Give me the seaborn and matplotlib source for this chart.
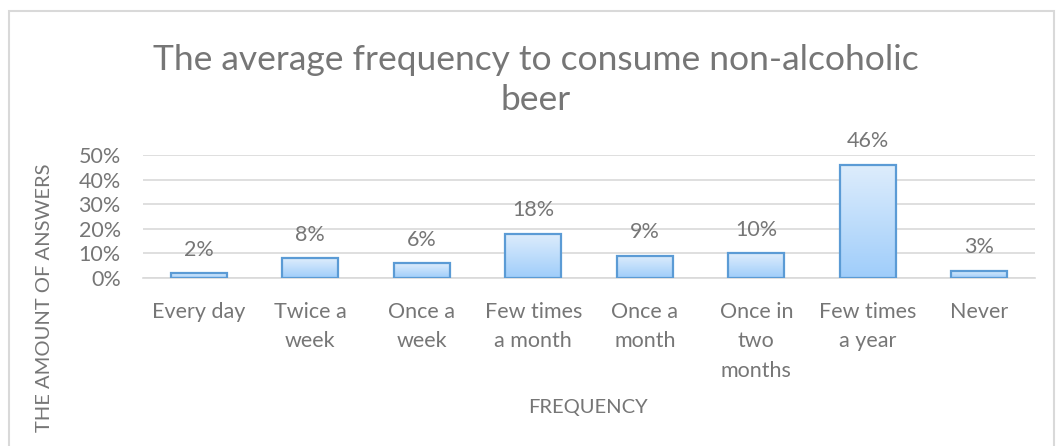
import numpy as np
import pandas as pd
import matplotlib
matplotlib.use("Agg")
import matplotlib.pyplot as plt
import seaborn as sns
from matplotlib.colors import LinearSegmentedColormap

categories = ["Every day", "Twice a\nweek", "Once a\nweek", "Few times\na month",
              "Once a\nmonth", "Once in\ntwo\nmonths", "Few times\na year", "Never"]
shares = [2, 8, 6, 18, 9, 10, 46, 3]
y_ticks = [0, 10, 20, 30, 40, 50]

df = pd.DataFrame({"category": categories, "share": shares})

sns.set_theme(style="white")
plt.rcParams["font.family"] = ["Lato", "DejaVu Sans"]

text_grey = "#767676"
fig = plt.figure(figsize=(10.56, 4.46), dpi=100)
ax = fig.add_axes([143 / 1056, 1 - 278 / 446, (1035 - 143) / 1056, (278 - 155) / 446])

sns.barplot(data=df, x="category", y="share", ax=ax, width=0.5,
            color="#bddcfb", edgecolor="#5b9bd5", linewidth=1.6, zorder=3)

# vertical gradient fill inside each bar
grad = LinearSegmentedColormap.from_list("bar", ["#9fcdfa", "#deedfc"])
gimg = np.linspace(0, 1, 256).reshape(-1, 1)
for p in ax.patches:
    x0, y0 = p.get_x(), p.get_y()
    w, h = p.get_width(), p.get_height()
    p.set_facecolor("none")
    im = ax.imshow(gimg, extent=[x0, x0 + w, y0, y0 + h], origin="lower",
                   cmap=grad, aspect="auto", zorder=2.5)
    im.set_clip_path(p)
    ax.text(x0 + w / 2, h + 9.5, f"{h:.0f}%", ha="center", va="center",
            fontsize=15.5, color=text_grey)

ax.set_xlim(-0.5, len(categories) - 0.5)
ax.set_ylim(0, 50)
ax.set_yticks(y_ticks)
ax.set_yticklabels([f"{v}%" for v in y_ticks])
ax.grid(axis="y", color="#d9d9d9", linewidth=1.2, zorder=0)
ax.set_axisbelow(True)
for s in ["top", "right", "left"]:
    ax.spines[s].set_visible(False)
ax.spines["bottom"].set_color("#d9d9d9")
ax.spines["bottom"].set_linewidth(1.2)
ax.tick_params(axis="both", length=0, labelsize=15.5, labelcolor=text_grey)
ax.tick_params(axis="x", pad=17)
ax.tick_params(axis="y", pad=16)
for lbl in ax.get_xticklabels():
    lbl.set_linespacing(1.6)
ax.set_xlabel("")
ax.set_ylabel("")

fig.text(536 / 1056, 1 - 80 / 446, "The average frequency to consume non-alcoholic\nbeer",
         ha="center", va="center", fontsize=25.5, color=text_grey, linespacing=1.3)
fig.text(588 / 1056, 1 - 407 / 446, "FREQUENCY", ha="center", va="center",
         fontsize=14.5, color=text_grey)
fig.text(45 / 1056, 1 - 298 / 446, "THE AMOUNT OF ANSWERS", ha="center", va="center",
         rotation=90, fontsize=14.5, color=text_grey)

# chart frame
frame = plt.Rectangle((9 / 1056, -0.1), (1054 - 9) / 1056, 1.1 - 11 / 446,
                      transform=fig.transFigure, fill=False, edgecolor="#d9d9d9",
                      linewidth=1.5)
fig.patches.append(frame)

fig.savefig("out.png", dpi=100, facecolor="white")
